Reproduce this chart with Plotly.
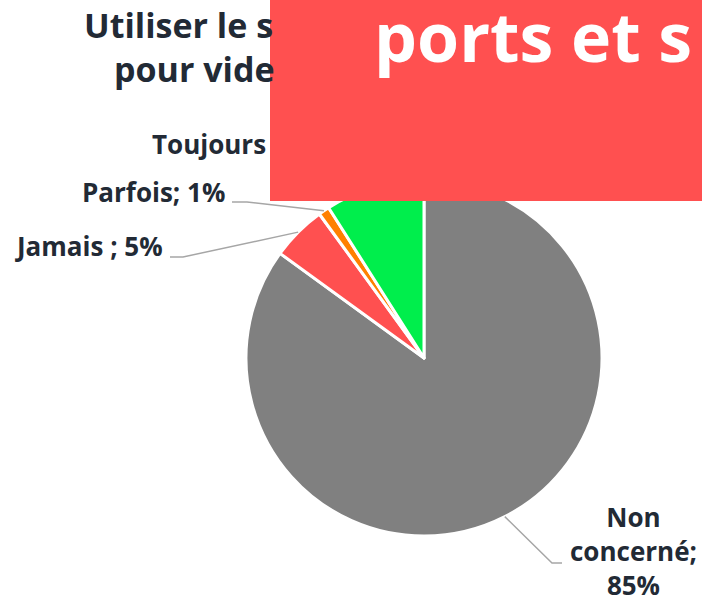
import math
import plotly.graph_objects as go

# data
labels = ["Non concerné", "Jamais ", "Parfois", "Toujours"]
values = [85, 5, 1, 9]
colors = ["#808080", "#FF5050", "#FF8000", "#00EE4C"]
title_lines = ["Utiliser le s", "pour vide"]
banner_text = "ports et s"

W, H = 702, 603
CX, CY, R = 424, 358, 178  # pie centre / radius in pixels
DARK = "#222A35"
FONT = "Open Sans"


def px(x):
    return x / W


def py(y):
    return 1 - y / H


def edge_point(i):
    """Point on the pie rim at the middle of slice i (clockwise from 12 o'clock)."""
    total = sum(values)
    before = sum(values[:i])
    frac = (before + values[i] / 2) / total
    ang = 2 * math.pi * frac
    return CX + R * math.sin(ang), CY - R * math.cos(ang)


fig = go.Figure()

fig.add_trace(
    go.Pie(
        labels=labels,
        values=values,
        sort=False,
        direction="clockwise",
        rotation=0,
        marker=dict(colors=colors, line=dict(color="white", width=3)),
        textinfo="none",
        hoverinfo="label+percent",
        domain=dict(x=[px(CX - R), px(CX + R)], y=[py(CY + R), py(CY - R)]),
        showlegend=False,
    )
)

# leader lines
shapes = []
ex, ey = edge_point(2)
shapes.append(dict(type="path", xref="paper", yref="paper",
                   path=f"M {px(232)},{py(202)} L {px(247)},{py(202)} L {px(ex)},{py(ey)}",
                   line=dict(color="#A6A6A6", width=1.5)))
ex, ey = edge_point(1)
shapes.append(dict(type="path", xref="paper", yref="paper",
                   path=f"M {px(170)},{py(257)} L {px(183)},{py(257)} L {px(ex)},{py(ey)}",
                   line=dict(color="#A6A6A6", width=1.5)))
ex, ey = edge_point(0)
shapes.append(dict(type="path", xref="paper", yref="paper",
                   path=f"M {px(ex)},{py(ey)} L {px(552)},{py(563)} L {px(562)},{py(563)}",
                   line=dict(color="#A6A6A6", width=1.5)))

# red banner covering the top right
shapes.append(dict(type="rect", xref="paper", yref="paper", layer="above",
                   x0=px(270), x1=1.01, y0=py(201), y1=1.01,
                   fillcolor="#FF5050", line=dict(width=0)))

pct = [f"{v}%" for v in values]
annotations = [
    dict(text=title_lines[0], x=px(82), y=py(25), xanchor="left", yanchor="middle",
         font=dict(size=34, color=DARK, family=FONT, weight="bold")),
    dict(text=title_lines[1], x=px(112), y=py(69), xanchor="left", yanchor="middle",
         font=dict(size=34, color=DARK, family=FONT, weight="bold")),
    dict(text="Toujours", x=px(268), y=py(144), xanchor="right", yanchor="middle",
         font=dict(size=26, color=DARK, family=FONT, weight="bold")),
    dict(text=f"{labels[2]}; {pct[2]}", x=px(227), y=py(192), xanchor="right", yanchor="middle",
         font=dict(size=26, color=DARK, family=FONT, weight="bold")),
    dict(text=f"{labels[1]}; {pct[1]}", x=px(165), y=py(246), xanchor="right", yanchor="middle",
         font=dict(size=26, color=DARK, family=FONT, weight="bold")),
    dict(text=f"Non<br>concerné;<br>{pct[0]}", x=px(633), y=py(551), xanchor="center",
         yanchor="middle", align="center",
         font=dict(size=26, color=DARK, family=FONT, weight="bold")),
    dict(text=banner_text, x=px(372), y=py(36), xanchor="left", yanchor="middle",
         font=dict(size=68, color="white", family=FONT, weight="bold")),
]
for a in annotations:
    a.update(xref="paper", yref="paper", showarrow=False)

fig.update_layout(
    width=W,
    height=H,
    margin=dict(l=0, r=0, t=0, b=0),
    paper_bgcolor="white",
    plot_bgcolor="white",
    shapes=shapes,
    annotations=annotations,
)

fig.write_html(
    "out.html",
    config={"displayModeBar": False},
    post_script="document.body.style.margin='0';document.body.style.overflow='hidden';",
)
